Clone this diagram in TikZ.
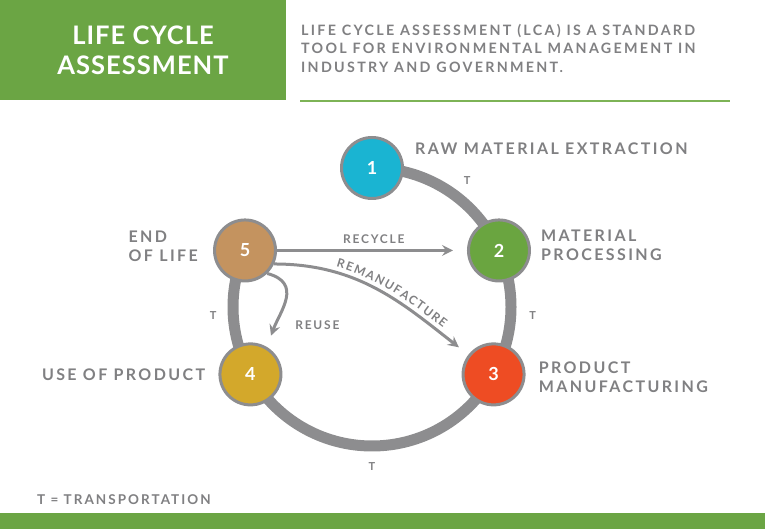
\documentclass[tikz,border=0pt]{standalone}
\usepackage{fontspec}
\setmainfont{Lato}
\newfontfamily\capsfont{Lato}[LetterSpace=15]
\newfontfamily\headfont{Lato}[LetterSpace=4]
\newfontfamily\introfont{Lato}[LetterSpace=16]
\usepackage{xcolor}
\definecolor{lcagreen}{HTML}{6BA544}
\definecolor{linegreen}{HTML}{7DB356}
\definecolor{ringgray}{HTML}{8D8D8F}
\definecolor{textgray}{HTML}{808082}
\definecolor{stageone}{HTML}{1AB4D2}
\definecolor{stagetwo}{HTML}{6AA540}
\definecolor{stagethree}{HTML}{EE4C23}
\definecolor{stagefour}{HTML}{D3A82B}
\definecolor{stagefive}{HTML}{C4935F}
\usepackage{tikz}
\usetikzlibrary{arrows.meta,positioning,calc,backgrounds,decorations.text}

\begin{document}
\begin{tikzpicture}[
  x=1pt, y=1pt,
  node distance=12pt,
  stage/.style={circle, draw=ringgray, line width=3pt, minimum size=61pt, inner sep=0pt,
                text=white, font=\headfont\bfseries\fontsize{18}{18}\selectfont},
  lbl/.style={text=textgray, align=left, inner sep=0pt,
              font=\capsfont\bfseries\fontsize{16}{18.5}\selectfont},
  tlbl/.style={text=textgray, inner sep=0pt, font=\capsfont\bfseries\fontsize{11}{11}\selectfont},
  flowlbl/.style={text=textgray, inner sep=0pt, font=\capsfont\bfseries\fontsize{12}{12}\selectfont},
  ring/.style={draw=ringgray, line width=11pt},
  flow/.style={draw=ringgray, line width=3pt, -{Stealth[length=11pt, width=11pt, inset=4pt]}}
]
\useasboundingbox (0,0) rectangle (765,529);

\node[fill=lcagreen, minimum width=286pt, minimum height=100pt, inner sep=0pt, align=center,
      text=white, font=\headfont\bfseries\fontsize{25.5}{30}\selectfont] (title) at (143,479)
      {LIFE CYCLE\\ASSESSMENT};
\node[anchor=north west, inner sep=0pt, align=left, text=textgray,
      font=\introfont\bfseries\fontsize{14.3}{18.5}\selectfont] (intro) at (301,505)
      {LIFE CYCLE ASSESSMENT (LCA) IS A STANDARD\\TOOL FOR ENVIRONMENTAL MANAGEMENT IN\\INDUSTRY AND GOVERNMENT.};
\draw[linegreen, line width=2pt] (300,428) -- (730,428);

\coordinate (hub) at (372,222);
\node[stage, fill=stageone] (s1) at ([shift={(90:139pt)}]hub) {1};
\node[stage, fill=stagetwo] (s2) at ([shift={(24:139pt)}]hub) {2};
\node[stage, fill=stagethree] (s3) at ([shift={(-29:139pt)}]hub) {3};
\node[stage, fill=stagefour] (s4) at ([shift={(209:139pt)}]hub) {4};
\node[stage, fill=stagefive] (s5) at ([shift={(156:139pt)}]hub) {5};

\begin{scope}[on background layer]
\draw[ring] (s1.center) arc[start angle=90, end angle=-204, radius=139pt];
\end{scope}

\node[lbl, right=11pt of s1, yshift=19pt] (raw) {RAW MATERIAL EXTRACTION};
\node[lbl, right=10pt of s2, yshift=5pt] (proc) {MATERIAL\\PROCESSING};
\node[lbl, right=13pt of s3, yshift=-3pt] (manu) {PRODUCT\\MANUFACTURING};
\node[lbl, left=13pt of s4] (use) {USE OF PRODUCT};
\node[lbl, left=15pt of s5, yshift=4pt] (eol) {END\\OF LIFE};

\node[tlbl] (t12) at ([shift={(53:158pt)}]hub) {T};
\node[tlbl] (t23) at ([shift={(-3:161pt)}]hub) {T};
\node[tlbl] (t34) at ([shift={(-90:160pt)}]hub) {T};
\node[tlbl] (t45) at ([shift={(183:159pt)}]hub) {T};

\draw[flow] (s5) -- ([xshift=-14pt]s2.west) node[flowlbl, pos=0.55, above=5pt] (recycle) {RECYCLE};
\draw[flow, shorten >=12pt] (s5.-25) to[out=0, in=142] (s3.142);
\path[decorate, decoration={text along path, raise=5.5pt, text align={left indent=60pt},
      text={|\capsfont\bfseries\fontsize{12}{12}\selectfont\color{textgray}\kern1.3pt|REMANUFACTURE}}]
      (s5.-25) to[out=0, in=142] (s3.142);
\draw[flow, shorten >=12pt] (s5.-46) to[out=-15, in=70, looseness=1.3] (s4.59);
\node[flowlbl, above right=22pt and 22pt of s4] (reuse) {REUSE};

\node[anchor=west, inner sep=0pt, text=textgray,
      font=\capsfont\bfseries\fontsize{13.5}{14}\selectfont] (legend) at (37,29) {T = TRANSPORTATION};
\fill[lcagreen] (0,0) rectangle (765,16);
\end{tikzpicture}
\end{document}
